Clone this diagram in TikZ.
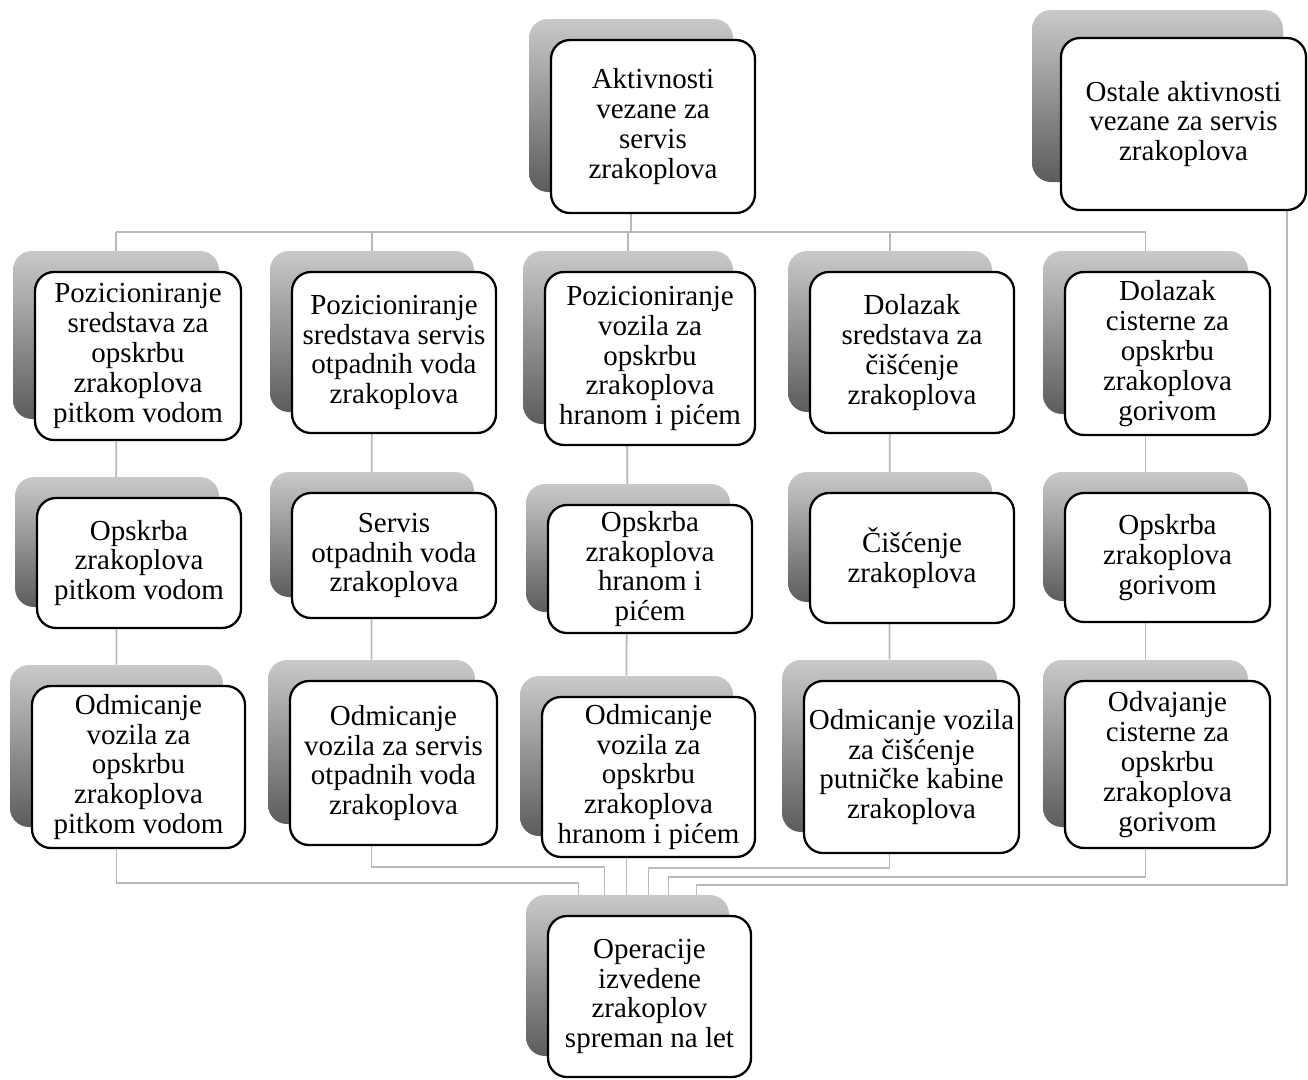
\documentclass[tikz,border=0pt]{standalone}
\usepackage{fontspec}
\setmainfont{Liberation Serif}
\usetikzlibrary{calc, backgrounds}
\definecolor{sv}{HTML}{c9c9c9}
\definecolor{tm}{HTML}{5c5c5c}
\definecolor{ln}{HTML}{b9b9b9}
\tikzset{
    kutija/.style={draw, line width=1.3pt, rounded corners=0.38cm, fill=white,
        align=center, inner sep=1pt, font=\fontsize{16.5}{17}\selectfont},
    sjena/.style={rounded corners=0.38cm, top color=sv, middle color=sv!80!tm,
        bottom color=tm, draw=none},
    veza/.style={draw=ln, line width=1pt}
}
% box with its shaded copy behind (name, x, y, width, height, text)
\newcommand{\aktivnost}[6]{%
    \node[sjena, minimum width=#4*0.02cm, minimum height=#5*0.02cm] (s#1) at (#2-22,#3-21) {};
    \node[kutija, minimum width=#4*0.02cm, minimum height=#5*0.02cm] (#1) at (#2,#3) {#6};
}

\begin{document}
\begin{tikzpicture}[x=0.02cm, y=-0.02cm]
			\useasboundingbox (0,0) rectangle (1308,1079);

			% Top
			\aktivnost{vrh}{653}{126.5}{204}{173}{Aktivnosti\\vezane za\\servis\\zrakoplova}
			\node[sjena, minimum width=251*0.02cm, minimum height=172*0.02cm] (so) at (1157.5,96) {};
			\node[kutija, minimum width=245*0.02cm, minimum height=172*0.02cm] (o) at (1183.5,124) {Ostale aktivnosti\\vezane za servis\\zrakoplova};

			% First row
			\aktivnost{11}{138}{356}{206}{168}{Pozicioniranje\\sredstava za\\opskrbu\\zrakoplova\\pitkom vodom}
			\aktivnost{21}{394}{352.5}{204}{161}{Pozicioniranje\\sredstava servis\\otpadnih voda\\zrakoplova}
			\aktivnost{31}{650}{358.5}{210}{173}{Pozicioniranje\\vozila za\\opskrbu\\zrakoplova\\hranom i pićem}
			\aktivnost{41}{912}{352.5}{204}{161}{Dolazak\\sredstava za\\čišćenje\\zrakoplova}
			\aktivnost{51}{1167.5}{353.5}{205}{163}{Dolazak\\cisterne za\\opskrbu\\zrakoplova\\gorivom}

			% Second row
			\aktivnost{12}{139}{563}{204}{130}{Opskrba\\zrakoplova\\pitkom vodom}
			\aktivnost{22}{394}{555.5}{204}{125}{Servis\\otpadnih voda\\zrakoplova}
			\aktivnost{32}{650}{569}{204}{128}{Opskrba\\zrakoplova\\hranom i\\pićem}
			\aktivnost{42}{912}{558}{204}{130}{Čišćenje\\zrakoplova}
			\aktivnost{52}{1167.5}{557.5}{205}{129}{Opskrba\\zrakoplova\\gorivom}

			% Third row
			\aktivnost{13}{138.5}{767}{213}{162}{Odmicanje\\vozila za\\opskrbu\\zrakoplova\\pitkom vodom}
			\aktivnost{23}{393.5}{763}{207}{164}{Odmicanje\\vozila za servis\\otpadnih voda\\zrakoplova}
			\aktivnost{33}{648.5}{777}{213}{160}{Odmicanje\\vozila za\\opskrbu\\zrakoplova\\hranom i pićem}
			\aktivnost{43}{911.5}{767}{215}{172}{Odmicanje vozila\\za čišćenje\\putničke kabine\\zrakoplova}
			\aktivnost{53}{1167.5}{764.5}{205}{167}{Odvajanje\\cisterne za\\opskrbu\\zrakoplova\\gorivom}

			% Bottom
			\aktivnost{d}{649.5}{996.5}{203}{161}{Operacije\\izvedene\\zrakoplov\\spreman na let}

			% Connectors
			\begin{scope}[on background layer]
				\draw[veza] (svrh.south) -- (svrh.south |- 0,232);
				\draw[veza] (s11.north |- 0,232) -- (s51.north |- 0,232);
				\foreach \k in {1,...,5}
					\draw[veza] (s\k1.north |- 0,232) -- (s\k3.north);

				\draw[veza] (s13.south) -- (s13.south |- 0,883) -| ($(sd.north)+(-49,0)$);
				\draw[veza] (s23.south) -- (s23.south |- 0,867) -| ($(sd.north)+(-23,0)$);
				\draw[veza] (s33.south) -- (s33.south |- sd.north);
				\draw[veza] (s43.south) -- (s43.south |- 0,868) -| ($(sd.north)+(21,0)$);
				\draw[veza] (s53.south) -- (s53.south |- 0,877) -| ($(sd.north)+(41,0)$);
				\coordinate (oizlaz) at ($(o.south east)+(-20,0)$);
				\draw[veza] (oizlaz) -- (oizlaz |- 0,885) -| ($(sd.north)+(69,0)$);
			\end{scope}
		\end{tikzpicture}
\end{document}
